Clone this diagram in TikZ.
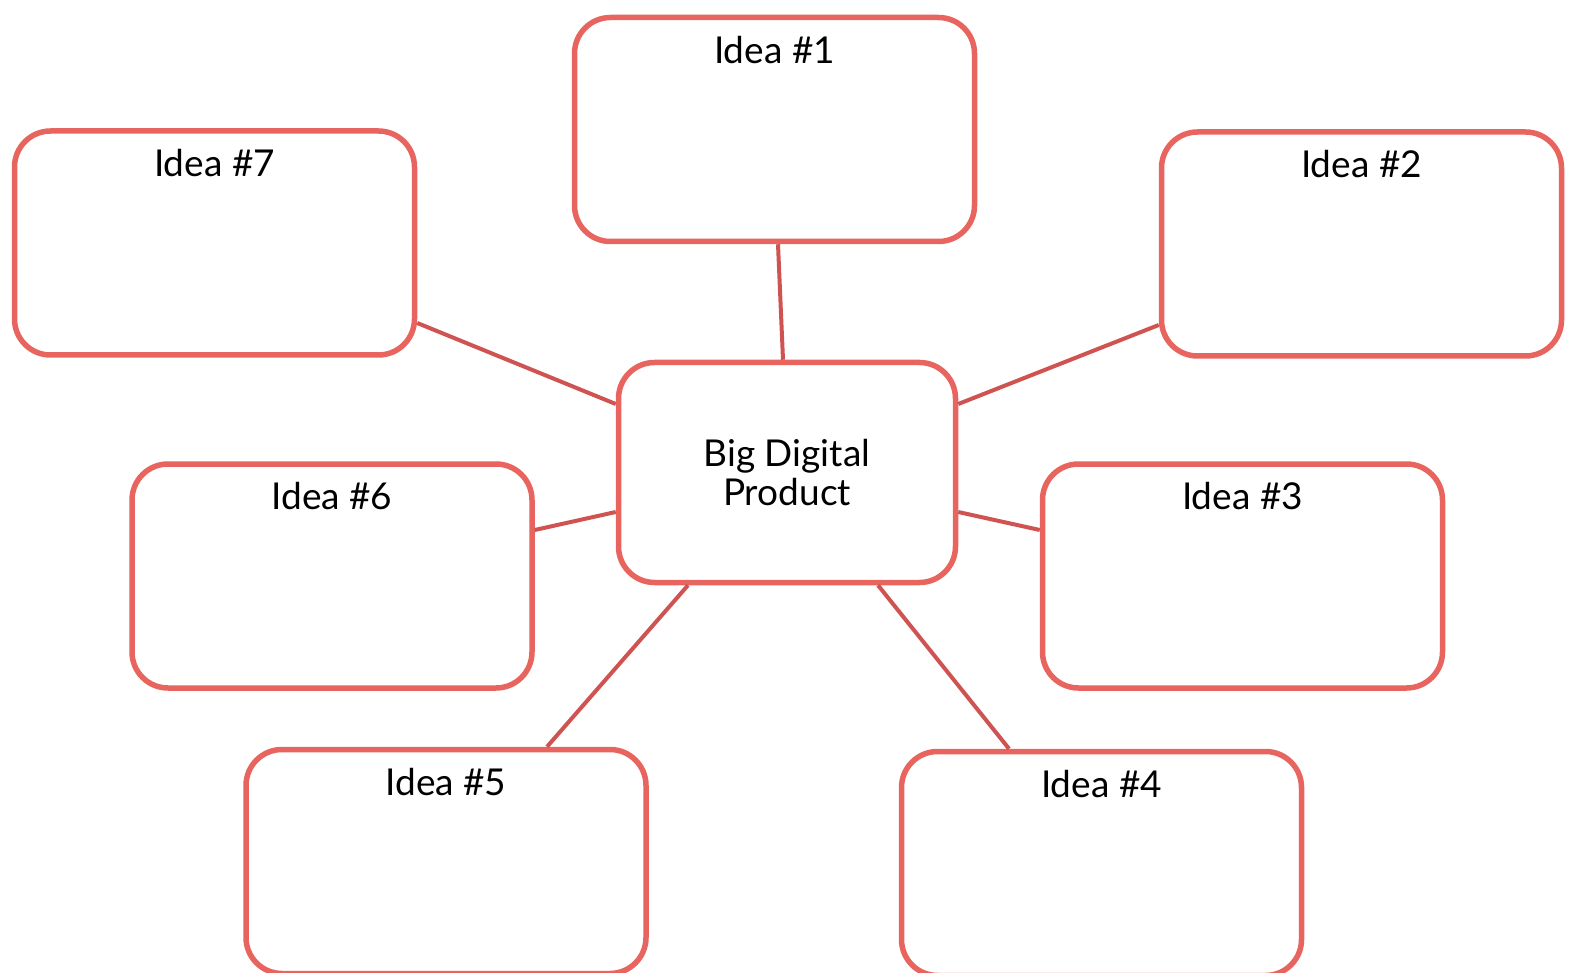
\documentclass[tikz,border=0pt]{standalone}
\usepackage{fontspec}
\setmainfont{Lato}
\definecolor{boxred}{HTML}{E8645F}
\definecolor{linkred}{HTML}{CF5451}
\begin{document}
\begin{tikzpicture}[x=1pt,y=-1pt,
  idea/.style={draw=boxred, line width=5.5pt, rounded corners=36pt, fill=white,
    minimum width=400pt, minimum height=224pt, inner sep=0pt},
  hub/.style={draw=boxred, line width=5.5pt, rounded corners=36pt, fill=white,
    minimum width=337pt, minimum height=220pt, inner sep=0pt, align=center,
    font=\fontsize{37}{39}\selectfont},
  ttl/.style={anchor=base, font=\fontsize{37}{39}\selectfont, inner sep=0pt},
  link/.style={draw=linkred, line width=4pt}]
\path[use as bounding box] (0,0) rectangle (1569,973);
\node[idea] (n1) at (774.5,129.5) {};
\node[idea] (n7) at (214.5,243) {};
\node[idea] (n2) at (1361.5,244) {};
\node[idea] (n6) at (332,576) {};
\node[idea] (n3) at (1242.5,576) {};
\node[idea] (n5) at (446,861.5) {};
\node[idea] (n4) at (1101.5,863.5) {};
\node[hub] (c) at (787,472.5) {Big Digital\\Product};
\draw[link] ([xshift=3.5pt]n1.south) -- ([xshift=-4pt]c.north);
\draw[link] ([yshift=-80pt]n7.east) -- ([yshift=68.5pt]c.west);
\draw[link] ([yshift=-81pt]n2.west) -- ([yshift=68.5pt]c.east);
\draw[link] ([yshift=46pt]n6.east) -- ([yshift=-39.5pt]c.west);
\draw[link] ([yshift=46pt]n3.west) -- ([yshift=-39.5pt]c.east);
\draw[link] ([xshift=101pt]n5.north) -- ([xshift=-99pt]c.south);
\draw[link] ([xshift=-92.5pt]n4.north) -- ([xshift=91pt]c.south);
\node[ttl] (t1) at ([yshift=-48.5pt]n1.north) {Idea \#1};
\node[ttl] (t7) at ([yshift=-48.5pt]n7.north) {Idea \#7};
\node[ttl] (t2) at ([yshift=-48.5pt]n2.north) {Idea \#2};
\node[ttl] (t6) at ([yshift=-48.5pt]n6.north) {Idea \#6};
\node[ttl] (t3) at ([yshift=-48.5pt]n3.north) {Idea \#3};
\node[ttl] (t5) at ([yshift=-48.5pt]n5.north) {Idea \#5};
\node[ttl] (t4) at ([yshift=-48.5pt]n4.north) {Idea \#4};
\end{tikzpicture}
\end{document}
